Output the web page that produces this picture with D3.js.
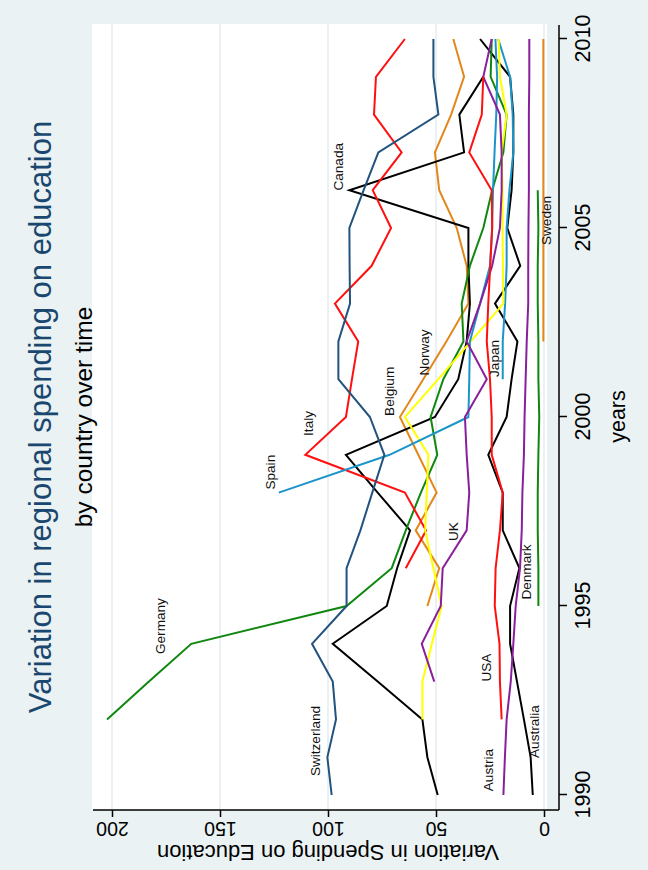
<!DOCTYPE html>
<html>
<head>
<meta charset="utf-8">
<script src="https://cdn.jsdelivr.net/npm/d3@7"></script>
<style>
  body { margin: 0; background: #eaf2f3; }
  svg { display: block; }
  text { font-family: "Liberation Sans", Arial, sans-serif; }
</style>
</head>
<body>
<div id="chart"></div>
<script>
// the chart is a Stata graph turned a quarter turn, so it is drawn flat and rotated
const years = [1990,1991,1992,1993,1994,1995,1996,1997,1998,1999,2000,2001,2002,2003,2004,2005,2006,2007,2008,2009,2010]
const yearTicks = [1990,1995,2000,2005,2010]
const valueTicks = [0,50,100,150,200]

const switzerland = [98.3,100.3,96.3,97.8,107.4,91.4,91.4,85,79.5,73.9,80.6,95.2,95.2,89.8,90,90.1,83.5,76.7,48.9,51.2,51.2]
const canada = [49.2,54,56.3,77,97.8,72.8,68,62,77,91.7,50.5,39.7,35.8,34.3,35,35,90.1,37,39.2,28.1,null]
const germany = [null,null,202.3,182.9,163.3,91.4,70.5,64,57,49.4,52.5,46.6,37.3,38.1,34.3,28.1,24,18.8,17.3,24.7,24.2]
const italy = [null,null,null,null,null,null,64,54.6,64.4,110.5,91.7,88.9,86,96.8,79.8,70.8,79.3,65.9,78.7,77.8,64.4]
const usa = [null,null,19.6,20.4,20.6,22.8,22.4,20.4,19.1,24.2,24.2,25,26.5,25.8,24.9,24,24.2,34.6,28.8,28.1,null]
const belgium = [null,null,null,null,null,54,48.5,59.4,49.7,58.2,66.7,55.9,45.2,35,35.8,40.4,48.5,50.5,43,37,42]
const norway = [null,null,56.3,56.3,51.9,47.4,51.2,55,54.3,53.5,64.4,48.9,33.9,18.8,19,19.2,19.2,19.6,17.3,20.4,21]
const uk = [null,null,null,50.8,56.6,47.8,46.9,35.8,34.6,35.8,36.6,26.5,35.8,29.6,24,20.4,19.6,19.6,20.4,28.1,24.2]
const austria = [18.8,18.1,17.3,15.4,14.2,13.1,11.1,10.3,10,9.3,9,8.5,8,7.3,7.3,7.2,7,7,7,6.8,6.8]
const australia = [5.2,6.2,9.3,12.5,15.7,15.7,11.4,19.1,19.1,25.8,17.3,15,12.3,22.7,11,17,15,14.2,14.2,15.7,29.6]
const spain = [null,null,null,null,null,null,null,null,122.8,71.5,35,34.6,34.3,29.6,25,24,23.6,22.9,22.1,21.7,22.5]
const japan = [null,null,null,null,null,null,null,null,null,null,null,19.1,19.1,18,17.3,17.3,16,14.2,14.5,15.7,21.2]
const denmark = [null,null,null,null,null,2.6,2.6,2.9,2.9,2.6,2.2,2.6,2.6,2.9,2.9,2.6,2.9,null,null,null,null]
const sweden = [null,null,null,null,null,null,null,null,null,null,null,null,0.3,0.3,0.3,0.3,0.3,0.3,0.3,0.3,0.3]

// where each country name sits: [year where the text starts, value]
const labelAt = {
  Switzerland: [1990.5, 106], Germany: [1993.73, 177.6], Spain: [1998.08, 126.7],
  Italy: [1999.5, 108.9], Belgium: [2000.03, 71.3], Norway: [2001.1, 55.1],
  Japan: [2001.06, 22.7], Canada: [2005.99, 95.2], UK: [1996.72, 42],
  USA: [1993.0, 26.5], Denmark: [1995.17, 8], Austria: [1990.1, 25.8],
  Australia: [1990.98, 4.2], Sweden: [2004.55, -1]
}

const series = [
  { name: 'Australia', values: australia, color: '#000000' },
  { name: 'Austria', values: austria, color: '#8a1f9c' },
  { name: 'Belgium', values: belgium, color: '#e3871a' },
  { name: 'Canada', values: canada, color: '#000000' },
  { name: 'Denmark', values: denmark, color: '#10870f' },
  { name: 'Germany', values: germany, color: '#10870f' },
  { name: 'Italy', values: italy, color: '#ff1010' },
  { name: 'Japan', values: japan, color: '#1b95c9' },
  { name: 'Norway', values: norway, color: '#ffff00' },
  { name: 'Spain', values: spain, color: '#1b95c9' },
  { name: 'Sweden', values: sweden, color: '#e3871a' },
  { name: 'Switzerland', values: switzerland, color: '#22527e' },
  { name: 'UK', values: uk, color: '#8a1f9c' },
  { name: 'USA', values: usa, color: '#ff1010' }
]

const width = 648
const height = 870

const svg = d3.select('#chart')
  .append('svg')
  .attr('width', width)
  .attr('height', height)

svg.append('rect')
  .attr('width', width)
  .attr('height', height)
  .attr('fill', '#eaf2f3')

// unrotated frame is 870 wide, 648 tall
const g = svg.append('g')
  .attr('transform', 'translate(0,' + height + ') rotate(-90)')

const xScale = d3.scaleLinear().domain([1990, 2010]).range([75, 831])
const yScale = d3.scaleLinear().domain([0, 200]).range([544, 112])

g.append('rect')
  .attr('x', 60).attr('y', 92)
  .attr('width', 786).attr('height', 455)
  .attr('fill', '#ffffff')

g.selectAll('.grid')
  .data(valueTicks)
  .enter()
  .append('line')
  .attr('class', 'grid')
  .attr('x1', 60).attr('x2', 846)
  .attr('y1', d => yScale(d)).attr('y2', d => yScale(d))
  .attr('stroke', '#e4ecef')
  .attr('stroke-width', 1.5)

// lines
const line = d3.line()
  .defined(d => d != null)
  .x((d, i) => xScale(years[i]))
  .y(d => yScale(d))

g.selectAll('.country')
  .data(series)
  .enter()
  .append('path')
  .attr('class', 'country')
  .attr('d', d => line(d.values))
  .attr('fill', 'none')
  .attr('stroke', d => d.color)
  .attr('stroke-width', 2)

g.selectAll('.name')
  .data(series)
  .enter()
  .append('text')
  .attr('class', 'name')
  .attr('x', d => xScale(labelAt[d.name][0]))
  .attr('y', d => yScale(labelAt[d.name][1]))
  .attr('dominant-baseline', 'central')
  .attr('font-size', '13.6px')
  .attr('fill', '#111')
  .text(d => d.name)

// years axis
const xAxis = d3.axisBottom(xScale).tickValues(yearTicks).tickFormat(d3.format('d')).tickSize(8).tickSizeOuter(0)
const xg = g.append('g')
  .attr('transform', 'translate(0,559)')
  .call(xAxis)
xg.select('.domain').remove()
xg.append('line').attr('x1', 60).attr('x2', 845).attr('stroke', '#000').attr('stroke-width', 1.5)
xg.selectAll('.tick line').attr('stroke-width', 1.5)
xg.selectAll('.tick text')
  .attr('y', 31).attr('dy', null)
  .attr('font-size', '21.5px')
  .attr('fill', '#000')

// value axis
const yAxis = d3.axisLeft(yScale).tickValues(valueTicks).tickSize(7).tickSizeOuter(0)
const yg = g.append('g')
  .attr('transform', 'translate(60,0)')
  .call(yAxis)
yg.select('.domain').remove()
yg.append('line').attr('y1', 93).attr('y2', 559).attr('stroke', '#000').attr('stroke-width', 1.5)
yg.selectAll('.tick line').attr('stroke-width', 1.5)
yg.selectAll('.tick text')
  .attr('x', 0).attr('dy', null)
  .attr('transform', 'translate(-12,0) rotate(-90)')
  .attr('text-anchor', 'middle')
  .attr('font-size', '19.5px')
  .attr('fill', '#000')

// titles
g.append('text')
  .attr('x', 453).attr('y', 51)
  .attr('text-anchor', 'middle')
  .attr('font-size', '31px')
  .attr('fill', '#1a476f')
  .text('Variation in regional spending on education')

g.append('text')
  .attr('x', 453).attr('y', 92)
  .attr('text-anchor', 'middle')
  .attr('font-size', '24.5px')
  .attr('fill', '#000')
  .text('by country over time')

g.append('text')
  .attr('x', 453.5).attr('y', 625)
  .attr('text-anchor', 'middle')
  .attr('font-size', '21.5px')
  .attr('fill', '#000')
  .text('years')

g.append('text')
  .attr('transform', 'translate(25,328) rotate(-90)')
  .attr('text-anchor', 'middle')
  .attr('font-size', '22px')
  .attr('fill', '#000')
  .text('Variation in Spending on Education')
</script>
</body>
</html>
